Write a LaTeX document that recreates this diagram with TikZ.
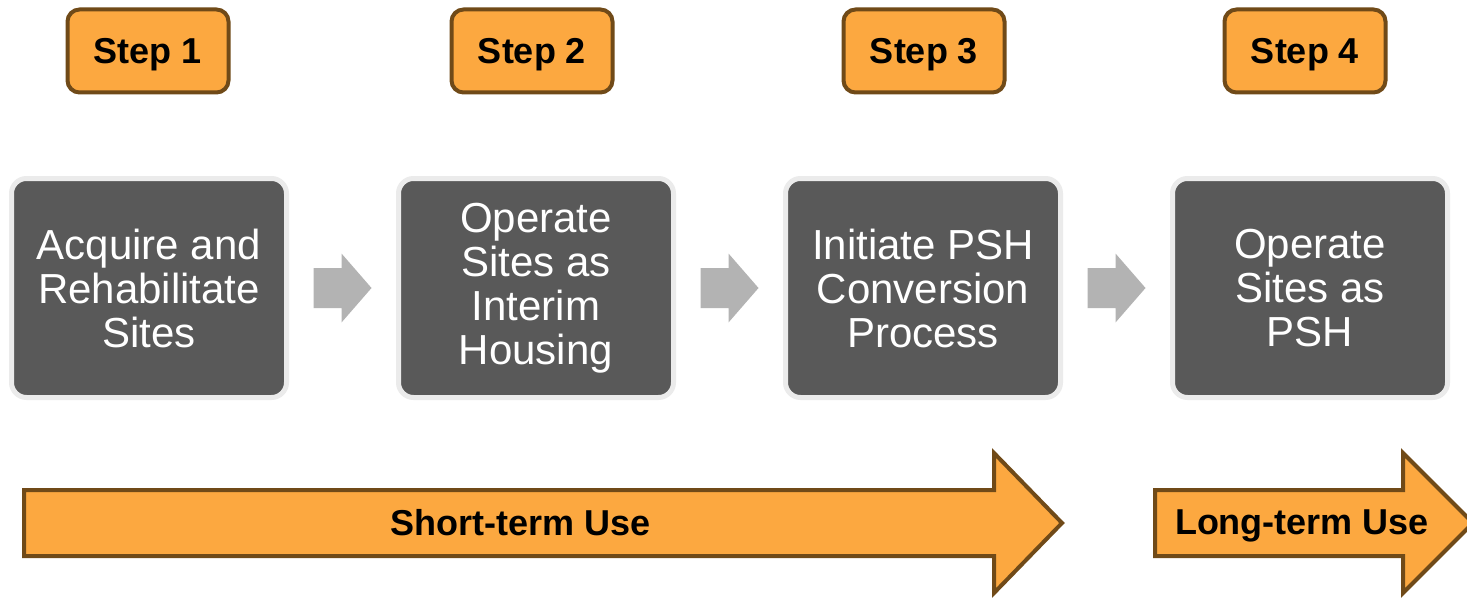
\documentclass[tikz,border=0pt]{standalone}
\usepackage{fontspec}
\setmainfont{Liberation Sans}
\usetikzlibrary{positioning,calc}
\definecolor{stepfill}{HTML}{FCA840}
\definecolor{stepline}{HTML}{704A18}
\definecolor{phasefill}{HTML}{595959}
\definecolor{phaseline}{HTML}{EBEBEB}
\definecolor{flowgray}{HTML}{B3B3B3}
\tikzset{
  steptag/.style={draw=stepline, fill=stepfill, line width=4pt, rounded corners=12pt,
    minimum width=161pt, minimum height=83pt, inner sep=0pt, text depth=0pt,
    font=\fontsize{36}{40}\selectfont\bfseries},
  phase/.style={draw=phaseline, fill=phasefill, line width=5pt, rounded corners=15pt,
    minimum width=275pt, minimum height=219pt, inner sep=0pt, text=white, align=center,
    font=\fontsize{42}{44}\selectfont},
  usearrow/.style={draw=stepline, fill=stepfill, line width=4pt},
  uselabel/.style={text depth=0pt, font=\fontsize{36}{40}\selectfont\bfseries},
  flowarrow/.pic={
    \fill[flowgray] (-29,-20) -- (-1,-20) -- (-1,-34.5) -- (29,0) -- (-1,34.5) -- (-1,20) -- (-29,20) -- cycle;
  }
}
\begin{document}
\begin{tikzpicture}[x=1pt,y=-1pt]
    \useasboundingbox[fill=white] (0,0) rectangle (1467,599);
    % steps
    \node[steptag] (step1) at (148,51) {Step 1};
    \node[steptag] (step2) at (532,51) {Step 2};
    \node[steptag] (step3) at (924,51) {Step 3};
    \node[steptag] (step4) at (1305,51) {Step 4};
    % phases
    \node[phase] (acquire) at (149,288) {Acquire and\\Rehabilitate\\Sites};
    \node[phase, right=107pt of acquire] (interim) {Operate\\Sites as\\Interim\\Housing};
    \node[phase, right=107pt of interim] (convert) {Initiate PSH\\Conversion\\Process};
    \node[phase, right=107pt of convert] (psh) {Operate\\Sites as\\PSH};
    % gray arrows between phases
    \foreach \a/\b in {acquire/interim, interim/convert, convert/psh}
        \pic at ($(\a.east)!0.5!(\b.west)$) {flowarrow};
    % use arrows
    \draw[usearrow] (24,490) -- (994,490) -- (994,453) -- (1062,523) -- (994,593) -- (994,556) -- (24,556) -- cycle;
    \draw[usearrow] (1155,490) -- (1403,490) -- (1403,453) -- (1473,523) -- (1403,593) -- (1403,556) -- (1155,556) -- cycle;
    \node[uselabel] (short) at (521,522) {Short-term Use};
    \node[uselabel] (long) at (1302,522) {Long-term Use};
\end{tikzpicture}
\end{document}
